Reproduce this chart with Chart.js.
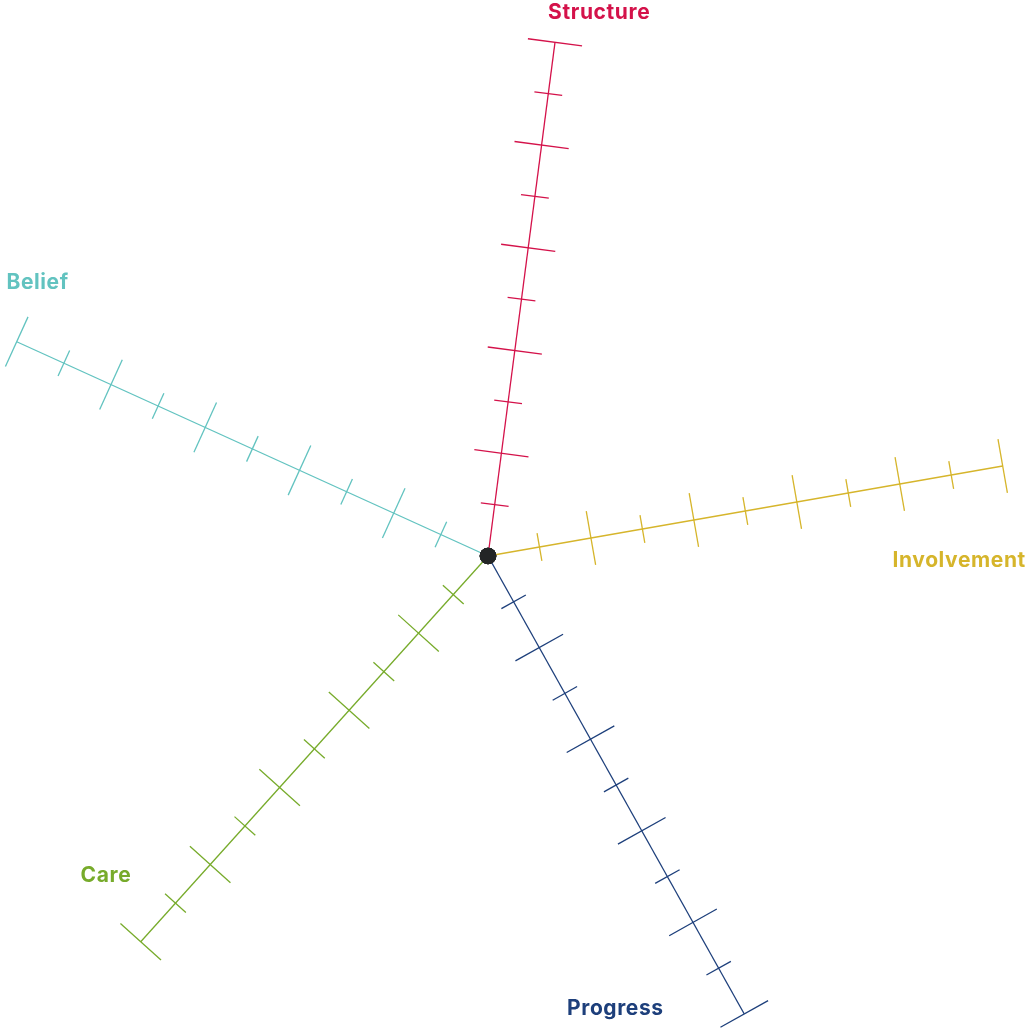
<!DOCTYPE html>
<html><head><meta charset="utf-8">
<script src="https://cdn.jsdelivr.net/npm/chart.js@4/dist/chart.umd.min.js"></script>
<style>
html,body{margin:0;padding:0;background:#fff;width:1031px;height:1028px;overflow:hidden;position:relative;}
#wrap{position:absolute;left:-32px;top:0;width:1063px;height:1076px;}
</style>
</head><body><div id="wrap"><canvas id="c"></canvas></div>
<script>
// ---- data ----
const categories = ['Structure', 'Involvement', 'Progress', 'Care', 'Belief'];
const centerValues = [0, 0, 0, 0, 0];
const scaleMin = 0;
const scaleMax = 10;
const scaleStep = 1;
const majorEvery = 2;

// ---- styling / geometry ----
const axisColors = ['#d4124a', '#d6b52b', '#1d3f7b', '#77ab2b', '#62c3c0'];
const axisAngles = [7.43, 80.08, 150.77, 222.0, 294.45];
const axisStretch = [518.05 / 520, 522.5 / 520, 524.8 / 520, 519.0 / 520, 517.7 / 520];
const labelOffsets = [[44.2, -23], [-43.5, 100.7], [-128.9, 1], [-34.8, -59.4], [20.8, -52.4]];

class SkewRadialScale extends Chart.RadialLinearScale {
  static id = 'skewRadial';
  getIndexAngle(index) {
    const a = axisAngles[index] * Math.PI / 180;
    const t = 2 * Math.PI;
    return ((a % t) + t) % t;
  }
  getPointPosition(index, distance, additionalAngle = 0) {
    return super.getPointPosition(index, distance * axisStretch[index], additionalAngle);
  }
}
Chart.register(SkewRadialScale);

const axisTicksPlugin = {
  id: 'axisTicks',
  beforeDatasetsDraw(chart) {
    const s = chart.scales.r;
    const ctx = chart.ctx;
    ctx.save();
    ctx.lineWidth = 1.3;
    categories.forEach((name, i) => {
      ctx.strokeStyle = axisColors[i];
      s.ticks.forEach(t => {
        if (t.value <= scaleMin) return;
        const p = s.getPointPositionForValue(i, t.value);
        const half = (Math.round(t.value / scaleStep) % majorEvery === 0) ? 27.3 : 14;
        const nx = -Math.sin(p.angle), ny = Math.cos(p.angle);
        ctx.beginPath();
        ctx.moveTo(p.x - nx * half, p.y - ny * half);
        ctx.lineTo(p.x + nx * half, p.y + ny * half);
        ctx.stroke();
      });
    });
    ctx.font = '700 21px Inter, "Noto Sans", sans-serif';
    try { ctx.letterSpacing = '0.6px'; } catch (e) {}
    ctx.textAlign = 'center';
    ctx.textBaseline = 'alphabetic';
    categories.forEach((name, i) => {
      const e = s.getPointPositionForValue(i, scaleMax);
      ctx.fillStyle = axisColors[i];
      ctx.fillText(name, e.x + labelOffsets[i][0], e.y + labelOffsets[i][1]);
    });
    ctx.restore();
  }
};

new Chart(document.getElementById('c'), {
  type: 'radar',
  data: {
    labels: categories,
    datasets: [{
      label: 'center',
      data: centerValues,
      showLine: false,
      fill: false,
      borderWidth: 0,
      pointRadius: 8.3,
      pointHoverRadius: 8.3,
      pointBorderWidth: 0,
      pointBackgroundColor: '#232526'
    }]
  },
  options: {
    responsive: true,
    maintainAspectRatio: false,
    animation: false,
    layout: { padding: { left: 0, right: 23, top: 36, bottom: 0 } },
    plugins: { legend: { display: false }, tooltip: { enabled: false } },
    scales: {
      r: {
        type: 'skewRadial',
        min: scaleMin,
        max: scaleMax,
        ticks: { display: false, stepSize: scaleStep },
        grid: { display: false },
        angleLines: { color: (c) => axisColors[c.index], lineWidth: 1.3 },
        pointLabels: { display: false }
      }
    }
  },
  plugins: [axisTicksPlugin]
});
</script>
</body></html>
